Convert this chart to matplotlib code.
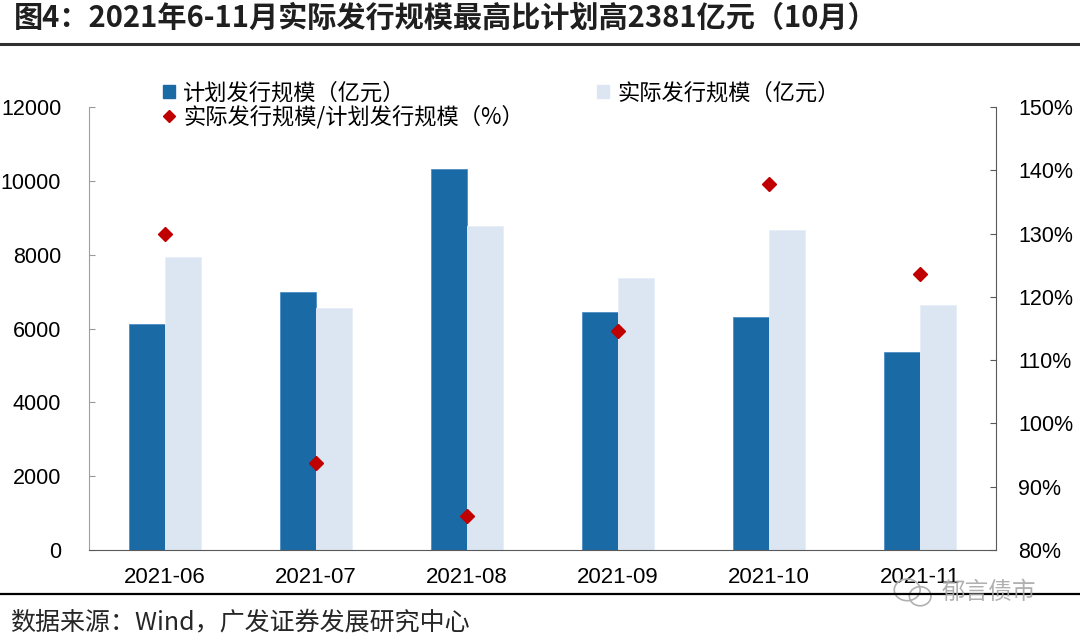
import matplotlib
matplotlib.use("Agg")
import matplotlib.pyplot as plt
from matplotlib.patches import Patch, Ellipse
from matplotlib.lines import Line2D
from matplotlib.ticker import FuncFormatter
import numpy as np

plt.rcParams['font.family'] = ['Liberation Sans', 'Noto Sans CJK SC', 'DejaVu Sans']
CJK = ['Noto Sans CJK SC', 'DejaVu Sans']

# 数据（亿元 / %）
months = ['2021-06', '2021-07', '2021-08', '2021-09', '2021-10', '2021-11']
plan = [6110, 6990, 10310, 6440, 6300, 5370]
actual = [7940, 6560, 8790, 7380, 8681, 6640]
ratio = [129.9, 93.8, 85.3, 114.6, 137.8, 123.6]

c_plan = '#1A6AA5'
c_act = '#DCE6F2'
c_ratio = '#C00000'

fig = plt.figure(figsize=(10.8, 6.37), dpi=100)
ax = fig.add_axes([0.0824, 0.1366, 0.8398, 0.6954])

x = np.arange(len(months))
w = 0.238
ax.bar(x - w / 2, plan, w, color=c_plan, edgecolor='#4F8EC4', linewidth=0.6)
ax.bar(x + w / 2, actual, w, color=c_act, edgecolor='#E8EEF7', linewidth=0.6)
ax.set_xlim(-0.5, 5.5)
ax.set_ylim(0, 12000)
ax.set_yticks(range(0, 12001, 2000))
ax.set_xticks(x)
ax.set_xticklabels(months)
ax.tick_params(axis='x', length=0, pad=12, labelsize=16)
ax.tick_params(axis='y', direction='in', length=4.5, color='#999999', pad=20, labelsize=15.5)
ax.spines['top'].set_visible(False)
ax.spines['right'].set_visible(False)
ax.spines['left'].set_color('#A0A0A0')
ax.spines['bottom'].set_color('#595959')

ax2 = ax.twinx()
ax2.plot(x, ratio, linestyle='none', marker='D', color=c_ratio, ms=7)
ax2.set_ylim(80, 150)
ax2.set_yticks(range(80, 151, 10))
ax2.yaxis.set_major_formatter(FuncFormatter(lambda v, p: '%d%%' % v))
ax2.tick_params(axis='y', direction='in', length=4.5, color='#595959', pad=16, labelsize=15.5)
for s in ['top', 'left', 'bottom']:
    ax2.spines[s].set_visible(False)
ax2.spines['right'].set_color('#595959')

handles = [Patch(color=c_plan),
           Line2D([], [], marker='D', color=c_ratio, ls='none', ms=6),
           Patch(color=c_act)]
labels = ['计划发行规模（亿元）', '实际发行规模/计划发行规模（%）', '实际发行规模（亿元）']
fig.legend(handles, labels, loc='upper left', bbox_to_anchor=(0.151, 0.872),
           ncol=2, frameon=False, prop={'family': CJK, 'size': 16},
           handlelength=0.55, handleheight=0.55, handletextpad=0.35,
           labelspacing=0.02, columnspacing=3.3, borderpad=0, borderaxespad=0)

# 标题与分隔线
fig.text(0.013, 0.972, '图4：2021年6-11月实际发行规模最高比计划高2381亿元（10月）',
         family=CJK, fontsize=21, fontweight='bold', color='#1F1F1F', va='center')
fig.add_artist(Line2D([0, 1], [0.9317, 0.9317], transform=fig.transFigure,
                      color='#303030', lw=2.2))
fig.add_artist(Line2D([0, 1], [0.0675, 0.0675], transform=fig.transFigure,
                      color='#000000', lw=1.6))

fig.text(0.009, 0.0235, '数据来源：Wind，广发证券发展研究中心',
         family=CJK, fontsize=18, color='#262626', va='center')

# 水印
fig.text(0.872, 0.070, '郁言债市', family=CJK, fontsize=17, color='#A8A8A8',
         va='center', alpha=0.9)
fig.add_artist(Ellipse((0.840, 0.074), 0.024, 0.034, transform=fig.transFigure,
                       fill=False, ec='#B0B0B0', lw=1.2))
fig.add_artist(Ellipse((0.852, 0.064), 0.020, 0.030, transform=fig.transFigure,
                       fill=False, ec='#B0B0B0', lw=1.2))

fig.savefig('out.png', dpi=100)
